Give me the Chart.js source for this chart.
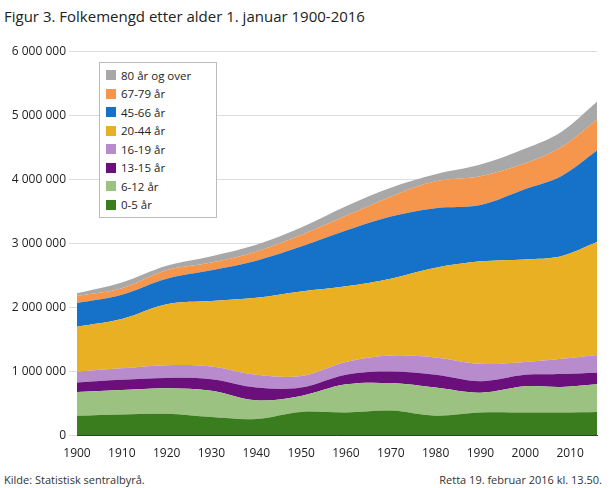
<!DOCTYPE html>
<html><head><meta charset="utf-8">
<script src="https://cdn.jsdelivr.net/npm/chart.js@4"></script>
<style>
body{margin:0;width:610px;height:488px;font-family:"Open Sans",sans-serif;position:relative;background:#fff}
#t{position:absolute;left:4px;top:6px;font-size:15px;color:#222}
#c{position:absolute;left:0;top:41px;width:606px;height:423px}
.f{position:absolute;top:472px;font-size:11px;color:#333}
#lg{position:absolute;left:99px;top:62px;width:104px;border:1px solid #bbb;background:#fff;padding:3px 6px;font-size:11.5px;color:#222}
#lg div{height:18.5px;display:flex;align-items:center}
#lg span{display:inline-block;width:10px;height:10px;margin-right:5px}
</style></head><body>
<div id="t">Figur 3. Folkemengd etter alder 1. januar 1900-2016</div>
<div id="c"><canvas id="cv"></canvas></div>
<div id="lg"></div>
<div class="f" style="left:4px">Kilde: Statistisk sentralbyrå.</div>
<div class="f" style="right:8px">Retta 19. februar 2016 kl. 13.50.</div>
<script>
const years=[1900,1910,1920,1930,1940,1950,1960,1970,1980,1990,2000,2008,2016];
const labels=["0-5 år","6-12 år","13-15 år","16-19 år","20-44 år","45-66 år","67-79 år","80 år og over"];
const a0_5=[0.31,0.33,0.34,0.29,0.26,0.37,0.36,0.39,0.31,0.36,0.36,0.36,0.37];
const a6_12=[0.37,0.38,0.40,0.41,0.29,0.25,0.44,0.43,0.44,0.31,0.41,0.40,0.43];
const a13_15=[0.15,0.16,0.16,0.18,0.20,0.13,0.15,0.18,0.20,0.18,0.18,0.20,0.18];
const a16_19=[0.17,0.18,0.20,0.20,0.20,0.18,0.20,0.25,0.27,0.27,0.20,0.24,0.28];
const a20_44=[0.70,0.77,0.95,1.02,1.20,1.32,1.18,1.20,1.40,1.60,1.60,1.60,1.76];
const a45_66=[0.37,0.38,0.40,0.48,0.58,0.70,0.87,0.97,0.93,0.88,1.10,1.25,1.43];
const a67_79=[0.11,0.10,0.13,0.12,0.14,0.18,0.23,0.31,0.42,0.45,0.40,0.45,0.48];
const a80=[0.04,0.09,0.07,0.10,0.11,0.12,0.15,0.14,0.11,0.18,0.23,0.24,0.28];
const series=[a0_5,a6_12,a13_15,a16_19,a20_44,a45_66,a67_79,a80];
const colors=["#3a7d1e","#9cc282","#6a0f7c","#b88ccc","#e9b023","#1672c9","#f5964c","#a8a8a8"];
const lg=document.getElementById('lg');
for(let i=labels.length-1;i>=0;i--){lg.innerHTML+=`<div><span style="background:${colors[i]}"></span>${labels[i]}</div>`;}
const fmt=v=>String(Math.round(v)).replace(/\B(?=(\d{3})+(?!\d))/g,' ');
new Chart(document.getElementById('cv'),{type:'line',
data:{datasets:series.map((s,i)=>({label:labels[i],data:s.map((v,j)=>({x:years[j],y:v*1e6})),
backgroundColor:colors[i],borderWidth:0,pointRadius:0,fill:i?'-1':'origin',tension:0.35}))},
options:{responsive:true,maintainAspectRatio:false,animation:false,
layout:{padding:{right:9,top:4}},
plugins:{legend:{display:false},tooltip:{enabled:false}},
scales:{x:{type:'linear',min:1900,max:2016,grid:{display:false},border:{color:'#333'},
afterBuildTicks:ax=>{ax.ticks=[];for(let y=1900;y<=2010;y+=10)ax.ticks.push({value:y});},
ticks:{color:'#222',font:{size:12,family:'Open Sans'},callback:v=>String(v),maxRotation:0}},
y:{stacked:true,min:0,max:6e6,grid:{color:'#ddd'},border:{display:false},
afterFit:ax=>{ax.width=77;},
ticks:{stepSize:1e6,color:'#222',font:{size:12,family:'Open Sans'},callback:v=>fmt(v)}}}}});
</script></body></html>
